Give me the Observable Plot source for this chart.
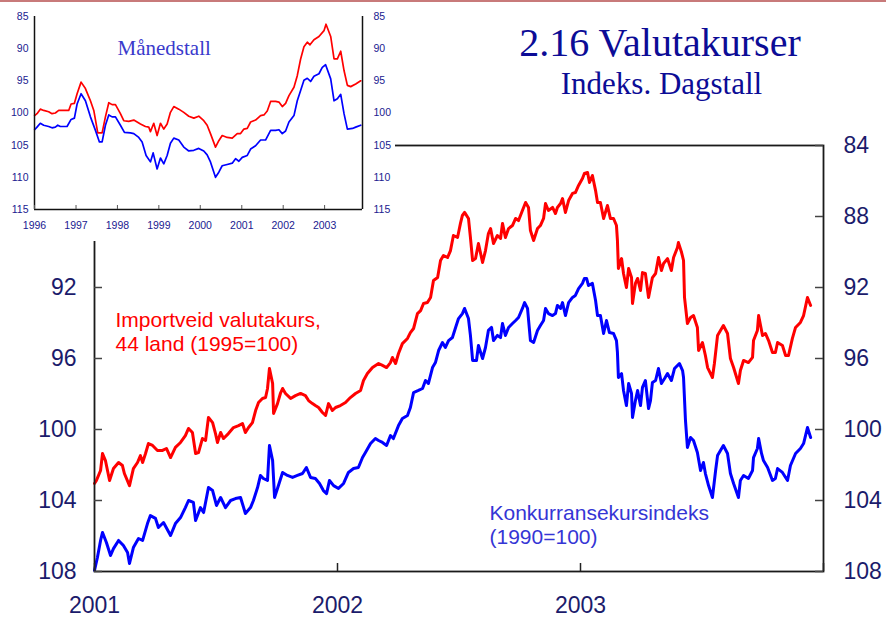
<!DOCTYPE html>
<html><head><meta charset="utf-8">
<script src="https://cdn.jsdelivr.net/npm/d3@7"></script>
<script src="https://cdn.jsdelivr.net/npm/@observablehq/plot@0.6"></script>
<style>
body{margin:0;background:#fff;}
#wrap{position:relative;width:886px;height:618px;overflow:hidden;background:#fff;}
#main,#inset{position:absolute;left:0;top:0;}
#topline{position:absolute;left:0;top:0;width:886px;height:2px;background:#c87a7a;}
</style></head><body>
<div id="wrap"><div id="main"></div><div id="inset"></div><div id="topline"></div></div>
<script>
// ---- Main chart (daily), dates as decimal years ----
const redDates = [2001.000,2001.008,2001.025,2001.033,2001.045,2001.062,2001.078,2001.099,2001.115,2001.123,2001.144,2001.160,2001.177,2001.189,2001.198,2001.210,2001.222,2001.239,2001.259,2001.280,2001.296,2001.313,2001.333,2001.354,2001.374,2001.387,2001.403,2001.416,2001.428,2001.444,2001.457,2001.469,2001.486,2001.498,2001.506,2001.519,2001.531,2001.551,2001.572,2001.593,2001.609,2001.621,2001.634,2001.650,2001.663,2001.675,2001.691,2001.704,2001.712,2001.720,2001.733,2001.737,2001.753,2001.765,2001.774,2001.786,2001.807,2001.827,2001.848,2001.868,2001.881,2001.897,2001.909,2001.922,2001.938,2001.951,2001.963,2001.979,2001.992,2002.012,2002.033,2002.053,2002.074,2002.095,2002.107,2002.123,2002.144,2002.169,2002.185,2002.202,2002.218,2002.226,2002.239,2002.251,2002.267,2002.288,2002.300,2002.313,2002.329,2002.342,2002.354,2002.370,2002.383,2002.395,2002.412,2002.424,2002.436,2002.453,2002.465,2002.477,2002.494,2002.506,2002.514,2002.523,2002.539,2002.547,2002.556,2002.568,2002.580,2002.597,2002.609,2002.621,2002.630,2002.642,2002.658,2002.671,2002.679,2002.691,2002.704,2002.720,2002.733,2002.745,2002.761,2002.774,2002.786,2002.794,2002.807,2002.823,2002.835,2002.848,2002.856,2002.868,2002.885,2002.897,2002.905,2002.918,2002.926,2002.938,2002.951,2002.967,2002.979,2002.992,2003.008,2003.016,2003.029,2003.037,2003.049,2003.062,2003.070,2003.082,2003.095,2003.111,2003.123,2003.136,2003.148,2003.152,2003.156,2003.169,2003.177,2003.189,2003.198,2003.210,2003.214,2003.226,2003.235,2003.247,2003.255,2003.267,2003.280,2003.288,2003.296,2003.309,2003.321,2003.333,2003.342,2003.358,2003.374,2003.383,2003.399,2003.403,2003.416,2003.424,2003.428,2003.440,2003.453,2003.465,2003.481,2003.486,2003.502,2003.514,2003.523,2003.543,2003.551,2003.564,2003.576,2003.588,2003.605,2003.617,2003.630,2003.650,2003.658,2003.671,2003.691,2003.708,2003.712,2003.728,2003.733,2003.749,2003.761,2003.774,2003.790,2003.802,2003.811,2003.831,2003.844,2003.856,2003.872,2003.885,2003.905,2003.918,2003.934,2003.947];
const redValues = [103.04,102.87,102.31,101.35,101.75,102.87,102.20,101.86,102.03,102.48,103.16,102.20,101.86,101.47,101.86,101.35,100.79,100.90,101.18,101.18,101.07,101.58,101.01,100.73,100.34,99.94,100.17,101.35,101.30,100.51,100.62,99.32,99.61,100.23,100.73,100.17,100.51,100.23,99.89,99.78,99.66,100.17,99.89,99.61,98.93,98.48,98.25,98.20,97.69,96.56,97.41,99.10,98.54,97.97,97.69,97.97,98.25,98.09,97.97,98.09,98.37,98.54,98.65,98.76,99.04,99.21,98.54,98.93,98.76,98.65,98.48,98.20,97.97,97.80,97.24,96.85,96.51,96.28,96.39,96.51,96.23,95.94,96.28,95.72,95.16,94.87,94.54,94.31,93.47,93.30,92.90,92.85,92.56,91.61,91.44,90.48,90.20,90.31,89.92,89.07,89.18,88.39,87.94,87.77,88.11,89.18,90.48,90.37,89.52,90.59,89.92,88.96,88.68,89.52,89.07,89.24,88.39,89.18,88.68,88.51,88.11,88.23,87.66,87.21,87.49,88.79,89.35,88.68,88.51,88.11,87.27,87.66,87.49,87.83,87.49,87.27,86.99,87.77,87.10,86.70,86.65,86.25,85.86,85.58,85.52,86.08,85.69,86.54,87.21,87.21,88.11,87.38,88.11,88.11,88.51,89.35,90.93,90.37,91.21,92.00,90.93,91.44,92.90,91.77,91.49,92.17,91.16,91.21,92.56,92.00,91.44,91.21,90.31,91.04,90.65,90.37,91.04,90.31,89.75,89.47,90.03,90.48,92.56,94.03,93.69,93.58,94.25,95.55,95.10,95.83,96.51,97.07,96.28,94.70,94.42,94.14,94.59,96.00,96.51,97.41,96.68,96.11,96.23,95.94,94.99,94.42,93.58,94.70,94.59,94.99,95.66,95.66,95.10,95.27,95.83,95.83,94.87,94.25,93.97,93.58,92.56,93.01];

const blueDates = [2001.000,2001.012,2001.025,2001.033,2001.049,2001.066,2001.078,2001.099,2001.119,2001.136,2001.144,2001.160,2001.181,2001.198,2001.218,2001.230,2001.251,2001.263,2001.284,2001.313,2001.333,2001.354,2001.374,2001.387,2001.407,2001.416,2001.436,2001.449,2001.469,2001.486,2001.502,2001.519,2001.539,2001.560,2001.580,2001.601,2001.621,2001.642,2001.654,2001.671,2001.683,2001.695,2001.712,2001.720,2001.733,2001.741,2001.753,2001.774,2001.794,2001.815,2001.835,2001.856,2001.872,2001.889,2001.909,2001.926,2001.942,2001.955,2001.967,2001.984,2002.004,2002.025,2002.045,2002.066,2002.086,2002.103,2002.115,2002.136,2002.156,2002.169,2002.185,2002.202,2002.218,2002.230,2002.251,2002.267,2002.288,2002.300,2002.313,2002.333,2002.350,2002.362,2002.374,2002.391,2002.403,2002.416,2002.432,2002.444,2002.457,2002.473,2002.486,2002.498,2002.514,2002.523,2002.539,2002.547,2002.556,2002.572,2002.580,2002.597,2002.609,2002.621,2002.634,2002.642,2002.658,2002.671,2002.679,2002.691,2002.704,2002.720,2002.733,2002.745,2002.761,2002.770,2002.782,2002.794,2002.807,2002.823,2002.835,2002.848,2002.856,2002.868,2002.885,2002.897,2002.905,2002.918,2002.926,2002.938,2002.951,2002.967,2002.979,2002.992,2003.008,2003.016,2003.025,2003.033,2003.049,2003.062,2003.070,2003.082,2003.095,2003.107,2003.119,2003.136,2003.148,2003.152,2003.156,2003.169,2003.177,2003.189,2003.198,2003.210,2003.214,2003.226,2003.235,2003.247,2003.255,2003.267,2003.280,2003.288,2003.296,2003.309,2003.321,2003.333,2003.346,2003.358,2003.374,2003.387,2003.399,2003.407,2003.420,2003.424,2003.432,2003.440,2003.453,2003.465,2003.481,2003.494,2003.506,2003.514,2003.527,2003.543,2003.556,2003.564,2003.576,2003.588,2003.605,2003.617,2003.630,2003.650,2003.658,2003.671,2003.691,2003.708,2003.712,2003.728,2003.733,2003.745,2003.753,2003.770,2003.790,2003.802,2003.811,2003.831,2003.852,2003.864,2003.885,2003.905,2003.918,2003.934,2003.947];
const blueValues = [107.94,107.21,106.25,105.80,106.37,107.10,106.71,106.25,106.54,106.93,107.55,106.65,106.14,106.25,105.30,104.85,105.01,105.52,105.24,105.97,105.30,104.96,104.40,104.00,104.11,105.13,104.40,104.68,103.27,103.44,104.28,103.83,104.40,104.00,103.89,103.83,104.73,104.40,104.00,103.27,102.59,102.76,102.87,100.90,101.75,103.83,103.32,102.42,102.59,102.70,102.59,102.48,102.14,102.70,102.76,103.04,103.44,103.61,102.87,103.16,103.32,103.04,102.42,102.20,102.14,101.58,101.30,100.79,100.51,100.62,100.73,100.90,100.34,100.51,99.78,99.38,99.21,98.76,97.92,97.80,97.69,97.24,97.41,96.51,96.23,95.55,95.10,95.38,94.99,94.82,94.25,93.75,93.47,93.18,93.75,94.70,96.11,96.11,95.27,96.00,95.38,94.42,94.25,94.99,94.70,94.82,94.03,94.70,94.25,94.03,93.86,93.69,93.18,92.85,93.18,94.99,95.10,94.42,94.14,93.86,93.18,93.47,93.58,93.47,93.01,93.18,92.85,93.58,92.85,92.56,92.45,92.06,91.77,91.49,91.49,91.89,91.77,92.73,93.58,93.58,94.59,93.86,94.54,94.59,94.99,95.66,97.07,96.85,97.80,98.65,97.41,97.97,99.32,98.37,97.80,98.65,97.63,97.24,98.82,98.37,97.35,97.24,96.56,97.41,97.13,96.85,97.24,96.56,96.39,96.28,96.68,97.07,99.49,101.01,100.45,100.62,101.30,102.31,101.86,102.48,103.16,103.83,102.31,101.47,101.18,100.90,101.35,102.48,103.04,103.83,102.87,102.59,102.76,102.31,101.58,101.07,100.51,101.35,101.75,102.14,102.87,102.76,102.20,102.42,102.87,102.03,101.35,101.07,100.79,99.89,100.45];

// ---- Inset (monthly) ----
const insetRedDates = [1996.003,1996.060,1996.140,1996.221,1996.341,1996.422,1996.502,1996.583,1996.704,1996.824,1996.881,1996.961,1997.026,1997.122,1997.227,1997.348,1997.429,1997.525,1997.630,1997.710,1997.791,1997.871,1997.952,1998.072,1998.153,1998.274,1998.395,1998.556,1998.676,1998.757,1998.797,1998.877,1998.958,1999.039,1999.119,1999.200,1999.280,1999.361,1999.481,1999.602,1999.723,1999.844,1999.964,2000.085,2000.166,2000.246,2000.367,2000.447,2000.528,2000.649,2000.770,2000.890,2000.971,2001.051,2001.132,2001.213,2001.333,2001.454,2001.535,2001.615,2001.696,2001.817,2001.897,2001.978,2002.058,2002.139,2002.260,2002.340,2002.421,2002.501,2002.582,2002.646,2002.743,2002.864,2002.985,2003.034,2003.147,2003.228,2003.308,2003.389,2003.469,2003.550,2003.630,2003.751,2003.872];
const insetRedValues = [100.4,100.1,99.4,99.6,99.8,100.1,100.0,99.6,99.6,99.6,98.6,98.5,97.0,95.2,96.2,98.1,99.6,103.1,103.1,100.6,98.4,98.7,98.7,100.1,101.2,101.3,101.1,101.7,102.1,102.2,102.9,101.6,103.5,101.6,102.5,101.7,99.9,99.0,99.4,99.9,100.5,100.8,100.5,101.2,101.9,103.2,105.3,104.3,103.5,103.8,103.9,103.2,103.2,102.5,102.4,101.4,101.1,100.4,100.3,99.7,98.2,98.2,98.3,99.0,98.5,97.3,96.0,94.2,91.6,89.7,89.0,89.4,88.6,88.1,87.2,86.2,88.1,91.6,91.6,90.4,93.4,95.7,95.9,95.5,95.0];
const insetBlueDates = [1996.003,1996.060,1996.140,1996.221,1996.341,1996.422,1996.502,1996.560,1996.623,1996.784,1996.881,1996.961,1997.026,1997.122,1997.227,1997.348,1997.469,1997.565,1997.630,1997.710,1997.791,1997.871,1997.952,1998.072,1998.169,1998.314,1998.395,1998.515,1998.596,1998.692,1998.797,1998.862,1998.958,1999.039,1999.119,1999.200,1999.280,1999.361,1999.481,1999.602,1999.723,1999.844,1999.964,2000.085,2000.166,2000.246,2000.367,2000.447,2000.528,2000.649,2000.770,2000.850,2000.930,2001.011,2001.132,2001.213,2001.333,2001.454,2001.574,2001.696,2001.817,2001.897,2001.978,2002.058,2002.139,2002.260,2002.340,2002.421,2002.501,2002.582,2002.662,2002.743,2002.864,2002.944,2003.024,2003.147,2003.228,2003.308,2003.389,2003.469,2003.550,2003.674,2003.751,2003.872];
const insetBlueValues = [102.6,102.2,101.6,101.9,102.1,102.3,102.2,101.9,102.1,102.1,101.0,100.8,98.6,97.0,98.1,100.6,102.7,104.5,104.5,101.9,100.3,100.6,100.6,101.9,103.0,103.1,103.2,103.8,104.5,106.6,107.6,106.2,108.7,107.0,107.9,106.6,104.7,103.9,104.2,105.3,105.9,105.8,105.5,105.9,106.5,107.6,110.0,109.2,108.2,108.0,107.8,107.1,107.5,106.9,106.6,105.6,105.1,104.2,104.2,102.7,102.7,102.6,103.2,102.8,101.4,100.4,98.1,96.5,94.9,94.6,95.1,94.3,93.9,92.9,92.5,94.7,98.1,97.8,97.1,100.1,102.5,102.4,102.2,101.9];

// ---- Ticks and labels ----
const mainYTicks = [84, 88, 92, 96, 100, 104, 108];
const mainLeftLabelTicks = [92, 96, 100, 104, 108]; // 84 and 88 lie under the inset
const mainXTickYears = [2001, 2002, 2003, 2004];
const mainXLabelYears = [2001, 2002, 2003];
const insetYTicks = [85, 90, 95, 100, 105, 110, 115];
const insetXTickYears = [1996, 1997, 1998, 1999, 2000, 2001, 2002, 2003];
const title = "2.16 Valutakurser";
const subtitle = "Indeks. Dagstall";
const redLabel = "Importveid valutakurs,\n44 land (1995=100)";
const blueLabel = "Konkurransekursindeks\n(1990=100)";
const insetLabel = "Månedstall";

function toDate(t) {
  const y = Math.floor(t + 1e-9);
  const a = Date.UTC(y, 0, 1), b = Date.UTC(y + 1, 0, 1);
  return new Date(a + (t - y) * (b - a));
}
const yearDate = y => new Date(Date.UTC(y, 0, 1));
const zip = (ds, vs) => ds.map((d, i) => ({date: toDate(d), value: vs[i]}));

const red = zip(redDates, redValues);
const blue = zip(blueDates, blueValues);
const iRed = zip(insetRedDates, insetRedValues);
const iBlue = zip(insetBlueDates, insetBlueValues);

const SANS = "Arial, 'Liberation Sans', Helvetica, sans-serif";
const SERIF = "'Times New Roman', 'Liberation Serif', Times, serif";
const NAVY = "#1b1b6b";
const TITLE = "#0c0c96";

const main = Plot.plot({
  width: 886, height: 618,
  marginLeft: 94, marginRight: 63, marginTop: 145, marginBottom: 47,
  style: {fontFamily: SANS, background: "transparent", overflow: "visible"},
  x: {type: "utc", domain: [yearDate(2001), yearDate(2004)], label: null},
  y: {domain: [84, 108], reverse: true, label: null},
  marks: [
    Plot.lineY(red, {x: "date", y: "value", stroke: "#ff0000", strokeWidth: 3, strokeLinejoin: "round"}),
    Plot.lineY(blue, {x: "date", y: "value", stroke: "#0000ff", strokeWidth: 3, strokeLinejoin: "round"}),
    Plot.frame({stroke: "#1a1a1a", strokeWidth: 1.8}),
    Plot.ruleY(mainYTicks, {insetRight: 721, stroke: "#444", strokeWidth: 1.5}),
    Plot.ruleY(mainYTicks, {insetLeft: 721, stroke: "#444", strokeWidth: 1.5}),
    Plot.ruleX(mainXTickYears.map(yearDate), {insetTop: 418, stroke: "#222", strokeWidth: 1.5}),
    Plot.axisY({ticks: mainLeftLabelTicks, anchor: "left", tickSize: 0, tickPadding: 18, fontSize: 23, fill: NAVY, label: null}),
    Plot.axisY({ticks: mainYTicks, anchor: "right", tickSize: 0, tickPadding: 20, fontSize: 23, fill: NAVY, label: null}),
    Plot.axisX({ticks: mainXLabelYears.map(yearDate), anchor: "bottom", tickSize: 0, tickPadding: 25, fontSize: 23, fill: NAVY, tickFormat: d3.utcFormat("%Y"), label: null}),
    Plot.text([redLabel], {frameAnchor: "top-left", dx: 21, dy: 205, text: d => d, textAnchor: "start", lineAnchor: "bottom", lineHeight: 1.11, fontSize: 21, fill: "#ff0000"}),
    Plot.text([blueLabel], {frameAnchor: "top-left", dx: 395, dy: 398, text: d => d, textAnchor: "start", lineAnchor: "bottom", lineHeight: 1.11, fontSize: 21, fill: "#3535d5"}),
    Plot.text([title], {frameAnchor: "top", dx: 201, dy: -90, text: d => d, lineAnchor: "bottom", fontSize: 40, fontFamily: SERIF, fill: TITLE}),
    Plot.text([subtitle], {frameAnchor: "top", dx: 202.5, dy: -52, text: d => d, lineAnchor: "bottom", fontSize: 31, fontFamily: SERIF, fill: TITLE})
  ]
});
document.getElementById("main").appendChild(main);

const insetEnd = new Date(Date.UTC(2003, 11, 1));
const inset = Plot.plot({
  width: 395, height: 241,
  marginLeft: 34, marginRight: 33, marginTop: 16, marginBottom: 32,
  style: {fontFamily: SANS, background: "#ffffff"},
  x: {type: "utc", domain: [yearDate(1996), insetEnd], label: null},
  y: {domain: [85, 115], reverse: true, label: null},
  marks: [
    Plot.lineY(iRed, {x: "date", y: "value", stroke: "#ff0000", strokeWidth: 1.7}),
    Plot.lineY(iBlue, {x: "date", y: "value", stroke: "#0000ff", strokeWidth: 1.7}),
    Plot.ruleX([yearDate(1996)], {stroke: "#111", strokeWidth: 1.5}),
    Plot.ruleX([insetEnd], {stroke: "#111", strokeWidth: 1.5}),
    Plot.ruleY([115], {stroke: "#111", strokeWidth: 1.5}),
    Plot.ruleX(insetXTickYears.map(yearDate), {insetTop: 189, stroke: "#555", strokeWidth: 1}),
    Plot.axisY({ticks: insetYTicks, anchor: "left", tickSize: 0, tickPadding: 6, fontSize: 10.5, fill: "#202090", label: null}),
    Plot.axisY({ticks: insetYTicks, anchor: "right", tickSize: 0, tickPadding: 11, fontSize: 10.5, fill: "#202090", label: null}),
    Plot.axisX({ticks: insetXTickYears.map(yearDate), anchor: "bottom", tickSize: 0, tickPadding: 12, fontSize: 10.5, fill: "#202090", tickFormat: d3.utcFormat("%Y"), label: null}),
    Plot.text([insetLabel], {frameAnchor: "top-left", dx: 83, dy: 38, text: d => d, textAnchor: "start", lineAnchor: "bottom", fontSize: 21, fontFamily: SERIF, fill: "#3a3acc"})
  ]
});
document.getElementById("inset").appendChild(inset);
</script></body></html>
